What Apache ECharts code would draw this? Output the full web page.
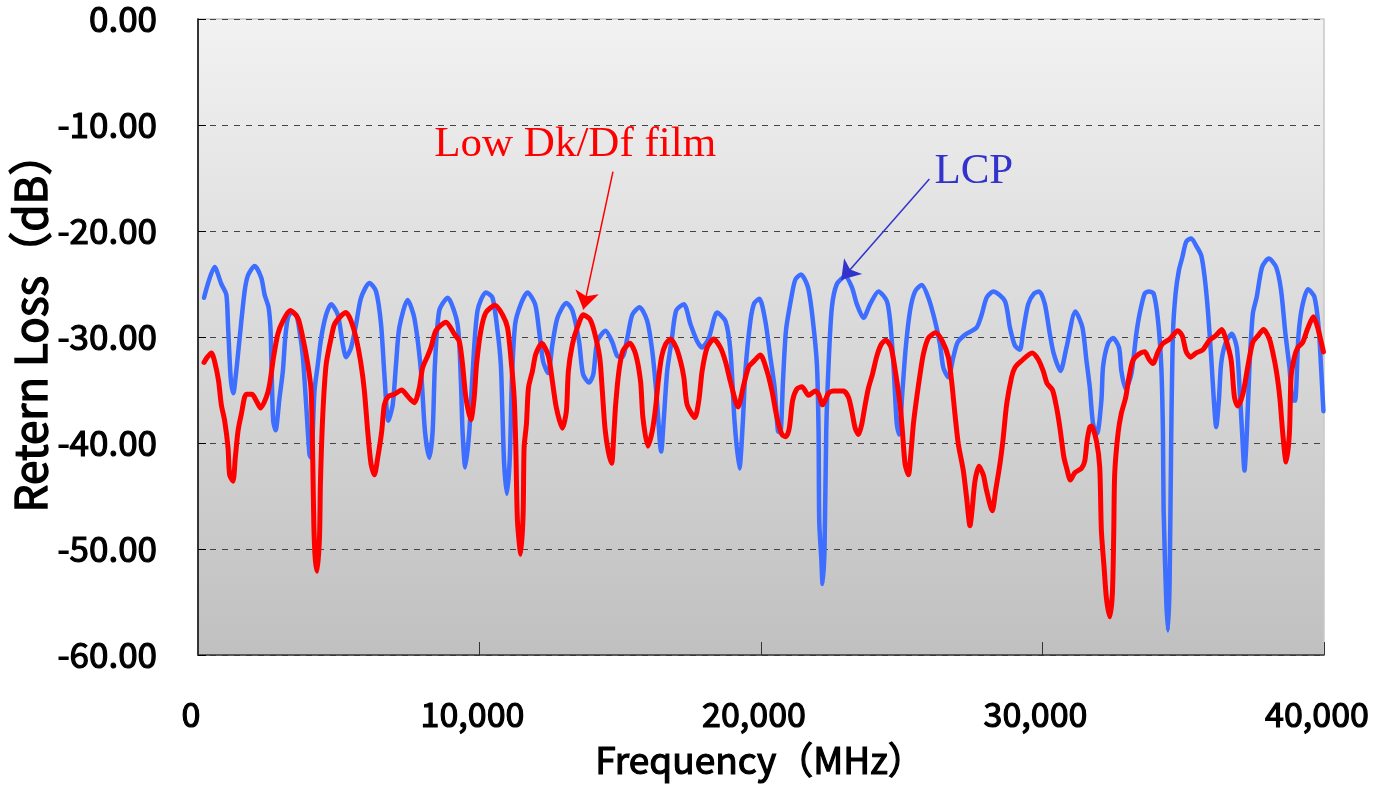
<!DOCTYPE html>
<html>
<head>
<meta charset="utf-8">
<script src="https://cdn.jsdelivr.net/npm/echarts@6/dist/echarts.min.js"></script>
<style>
html,body{margin:0;padding:0;background:#fff;}
#chart{width:1373px;height:791px;}
</style>
</head>
<body>
<div id="chart"></div>
<script>
// Frequency (MHz), Return loss (dB)
const lcpData = [
[214,-26.3],[592,-23.4],[829,-25.0],[1006,-26.0],[1065,-28.8],[1160,-33.8],[1254,-35.3],[1360,-33.2],[1479,-30.1],[1656,-25.7],[1774,-24.2],[2011,-23.3],[2247,-24.4],[2365,-26.0],[2507,-27.2],[2578,-29.4],[2625,-34.2],[2672,-37.9],[2755,-38.8],[2897,-35.7],[3015,-33.2],[3098,-30.1],[3193,-28.2],[3311,-27.7],[3488,-27.9],[3606,-29.4],[3725,-31.9],[3843,-36.4],[3961,-41.1],[4020,-41.4],[4138,-35.1],[4256,-32.6],[4375,-30.1],[4552,-27.9],[4729,-26.9],[4966,-27.9],[5143,-30.7],[5261,-31.9],[5439,-31.0],[5616,-28.8],[5793,-26.3],[6089,-24.9],[6325,-25.7],[6502,-28.8],[6620,-33.5],[6762,-37.9],[6916,-36.4],[7034,-32.6],[7152,-29.1],[7448,-26.5],[7684,-28.2],[7921,-33.2],[8063,-38.9],[8216,-41.4],[8335,-38.9],[8417,-32.6],[8571,-27.5],[8867,-26.3],[9221,-28.8],[9339,-34.2],[9398,-38.9],[9493,-42.3],[9635,-39.0],[9753,-33.5],[9930,-27.5],[10226,-25.8],[10462,-26.3],[10640,-29.4],[10758,-32.6],[10817,-37.3],[10876,-42.0],[10971,-44.8],[11077,-41.4],[11148,-34.2],[11266,-28.8],[11467,-26.9],[11704,-25.8],[11975,-26.9],[12117,-29.4],[12259,-32.3],[12436,-33.4],[12590,-30.7],[12767,-28.2],[13086,-26.8],[13299,-27.5],[13535,-30.4],[13677,-33.5],[13890,-34.3],[14044,-33.5],[14186,-30.4],[14481,-29.4],[14718,-30.5],[14895,-31.8],[15072,-31.9],[15250,-30.1],[15427,-27.9],[15687,-27.2],[15959,-28.5],[16136,-31.3],[16278,-35.1],[16455,-40.8],[16550,-37.6],[16668,-33.2],[16822,-30.4],[16987,-27.5],[17259,-26.9],[17495,-28.8],[17732,-30.4],[17909,-31.0],[18145,-30.1],[18441,-27.7],[18736,-28.5],[18913,-31.3],[19067,-38.2],[19233,-42.4],[19351,-38.2],[19446,-33.2],[19623,-28.5],[19760,-26.8],[19941,-26.4],[20154,-28.5],[20331,-31.9],[20485,-34.8],[20603,-38.9],[20686,-39.0],[20780,-34.2],[20887,-29.4],[21076,-26.3],[21218,-24.6],[21419,-24.1],[21667,-25.3],[21832,-28.2],[21986,-32.6],[22045,-38.9],[22069,-47.4],[22140,-50.8],[22187,-53.3],[22258,-49.9],[22317,-38.9],[22400,-32.6],[22518,-27.2],[22696,-25.0],[22991,-24.3],[23227,-25.3],[23405,-26.9],[23641,-28.2],[23877,-26.9],[24173,-25.7],[24469,-26.6],[24587,-28.5],[24705,-32.6],[24823,-38.2],[24906,-39.2],[25024,-35.1],[25142,-31.0],[25296,-27.5],[25474,-25.7],[25710,-25.1],[25946,-26.3],[26182,-28.5],[26360,-30.7],[26478,-32.9],[26655,-33.8],[26832,-31.9],[26986,-30.5],[27246,-29.8],[27660,-29.1],[27837,-27.9],[28014,-26.3],[28251,-25.7],[28664,-26.6],[28842,-29.1],[29019,-30.8],[29196,-31.2],[29315,-29.4],[29492,-26.9],[29700,-25.9],[29882,-25.7],[30083,-26.9],[30260,-29.7],[30402,-31.6],[30638,-33.2],[30851,-31.0],[31170,-27.6],[31418,-29.1],[31560,-32.2],[31678,-34.7],[31797,-38.2],[31938,-39.1],[32092,-36.0],[32151,-32.8],[32329,-30.6],[32506,-30.1],[32719,-31.0],[32801,-33.2],[32955,-34.9],[33156,-33.5],[33333,-29.7],[33451,-27.8],[33629,-25.9],[33783,-25.7],[33948,-25.9],[34102,-28.4],[34220,-32.8],[34279,-39.1],[34303,-46.4],[34397,-54.9],[34456,-57.7],[34515,-53.3],[34574,-39.1],[34634,-29.7],[34728,-25.9],[34846,-23.7],[34965,-22.5],[35107,-21.0],[35284,-20.7],[35461,-21.4],[35638,-22.3],[35757,-24.3],[35875,-27.5],[35993,-31.9],[36088,-36.0],[36170,-38.5],[36265,-36.0],[36347,-32.5],[36501,-30.6],[36726,-29.7],[36903,-31.0],[36998,-34.7],[37092,-39.1],[37175,-42.6],[37258,-39.1],[37352,-32.8],[37471,-27.8],[37612,-26.2],[37801,-23.4],[38038,-22.6],[38298,-23.4],[38475,-25.6],[38629,-29.7],[38771,-32.8],[38889,-36.0],[38972,-36.0],[39090,-30.0],[39220,-27.2],[39433,-25.5],[39657,-26.2],[39811,-29.1],[39894,-32.8],[39980,-37.0]
];
const lowDkData = [
[214,-32.4],[332,-31.9],[474,-31.5],[616,-32.6],[734,-34.2],[829,-36.4],[947,-37.9],[1065,-40.4],[1124,-43.0],[1242,-43.6],[1325,-41.4],[1420,-38.9],[1538,-37.3],[1715,-35.4],[1916,-35.4],[2070,-36.0],[2223,-36.7],[2424,-35.7],[2542,-34.5],[2684,-31.9],[2838,-29.7],[3015,-28.5],[3275,-27.5],[3547,-28.2],[3725,-30.1],[3902,-32.6],[4020,-35.1],[4079,-42.0],[4115,-47.7],[4162,-50.8],[4233,-52.1],[4316,-48.9],[4351,-43.6],[4434,-37.3],[4552,-32.6],[4729,-30.1],[4848,-28.8],[5049,-28.1],[5261,-27.7],[5439,-28.5],[5616,-30.1],[5793,-32.6],[5911,-35.1],[6029,-38.9],[6148,-42.0],[6266,-43.0],[6384,-41.4],[6526,-38.9],[6620,-36.4],[6762,-35.6],[6975,-35.4],[7235,-35.0],[7448,-35.6],[7684,-36.2],[7862,-34.8],[7980,-32.9],[8157,-31.8],[8275,-31.0],[8453,-29.4],[8807,-28.6],[9103,-29.7],[9280,-30.4],[9398,-32.6],[9516,-35.7],[9694,-37.8],[9812,-35.7],[9895,-32.6],[10049,-29.4],[10226,-27.7],[10557,-27.0],[10817,-27.9],[10994,-29.1],[11113,-31.9],[11231,-35.7],[11290,-40.4],[11349,-47.4],[11467,-50.5],[11550,-46.7],[11585,-40.4],[11668,-38.2],[11739,-34.8],[11881,-33.2],[12000,-31.6],[12212,-30.6],[12448,-31.8],[12590,-34.2],[12732,-36.7],[12944,-38.6],[13086,-37.0],[13157,-33.2],[13299,-30.7],[13476,-29.1],[13689,-27.9],[13914,-28.3],[14068,-29.4],[14269,-31.9],[14363,-35.1],[14458,-38.6],[14576,-40.8],[14694,-41.9],[14777,-38.9],[14836,-36.4],[14954,-33.2],[15096,-31.3],[15344,-30.6],[15545,-31.6],[15722,-34.2],[15805,-37.6],[15982,-40.3],[16136,-38.9],[16254,-36.7],[16349,-34.2],[16467,-31.9],[16609,-30.7],[16786,-30.2],[16987,-31.0],[17141,-32.3],[17259,-33.8],[17377,-36.4],[17649,-37.6],[17791,-36.0],[17909,-33.2],[18086,-31.0],[18322,-30.2],[18559,-31.0],[18736,-32.3],[18913,-34.2],[19185,-36.6],[19387,-34.5],[19564,-32.8],[19740,-32.3],[19977,-31.7],[20213,-33.2],[20390,-35.1],[20568,-37.6],[20745,-39.2],[20887,-39.4],[21005,-38.6],[21123,-36.0],[21277,-34.9],[21454,-34.7],[21691,-35.5],[21927,-35.1],[22045,-35.4],[22187,-36.4],[22400,-35.3],[22577,-35.1],[22932,-35.1],[23109,-35.7],[23227,-37.0],[23345,-38.6],[23464,-39.2],[23582,-38.2],[23700,-36.4],[23818,-34.8],[23960,-33.5],[24114,-31.8],[24268,-30.7],[24433,-30.3],[24622,-31.0],[24788,-33.5],[24942,-36.4],[25024,-38.9],[25119,-42.0],[25237,-43.0],[25331,-40.8],[25414,-38.2],[25533,-35.7],[25651,-33.5],[25769,-31.6],[25946,-30.1],[26206,-29.6],[26442,-30.4],[26655,-31.9],[26773,-34.2],[26891,-37.3],[27010,-40.1],[27187,-42.6],[27305,-45.2],[27424,-47.8],[27506,-46.1],[27601,-43.6],[27743,-42.2],[27896,-43.0],[28014,-44.5],[28215,-46.4],[28334,-44.5],[28487,-42.0],[28605,-39.5],[28724,-36.4],[28901,-33.8],[29019,-32.9],[29232,-32.3],[29634,-31.5],[29846,-32.1],[30024,-33.2],[30166,-34.4],[30355,-35.0],[30496,-36.6],[30615,-38.5],[30757,-41.3],[30851,-42.3],[30993,-43.5],[31147,-42.8],[31383,-42.4],[31501,-41.7],[31584,-39.8],[31678,-38.5],[31738,-38.4],[31915,-39.8],[32033,-42.3],[32092,-48.3],[32187,-51.7],[32269,-54.6],[32388,-56.4],[32482,-54.2],[32530,-48.6],[32565,-42.9],[32683,-39.1],[32801,-37.2],[32955,-35.7],[33073,-33.8],[33215,-32.2],[33428,-31.6],[33629,-31.4],[33783,-32.1],[33924,-32.5],[34102,-31.4],[34279,-30.6],[34515,-30.2],[34811,-29.4],[34965,-29.9],[35107,-31.4],[35260,-31.9],[35461,-31.5],[35698,-31.2],[35934,-30.3],[36147,-29.9],[36371,-29.3],[36525,-30.3],[36702,-32.2],[36820,-35.7],[36939,-36.5],[37116,-35.4],[37293,-32.8],[37471,-30.5],[37648,-29.9],[37849,-29.3],[38062,-30.2],[38239,-32.2],[38357,-34.1],[38440,-36.0],[38535,-39.1],[38653,-41.8],[38771,-39.1],[38830,-33.8],[38948,-31.9],[39067,-31.0],[39244,-30.5],[39421,-29.2],[39622,-28.1],[39775,-29.1],[39980,-31.4]
];
const seriesNames = ['LCP', 'Low Dk/Df film'];
const xAxisTitle = 'Frequency（MHz）';
const yAxisTitle = 'Retern Loss（dB）';

const tickFont = "'Noto Sans CJK JP', sans-serif";
const titleFont = "'Noto Sans CJK JP', sans-serif";

const chart = echarts.init(document.getElementById('chart'), null, {renderer: 'canvas'});
chart.setOption({
  animation: false,
  backgroundColor: '#ffffff',
  grid: {
    left: 198, right: 49, top: 19, bottom: 136,
    containLabel: false,
    outerBoundsMode: 'none',
    show: true,
    borderColor: '#c8c8c8', borderWidth: 1.5,
    backgroundColor: new echarts.graphic.LinearGradient(0, 0, 0, 1, [
      {offset: 0, color: '#f2f2f2'},
      {offset: 1, color: '#c0c0c0'}
    ])
  },
  xAxis: {
    type: 'value', min: 0, max: 40000, interval: 10000,
    name: xAxisTitle, nameLocation: 'middle', nameGap: 86, nameMoveOverlap: false,
    nameTextStyle: {fontFamily: titleFont, fontSize: 37, color: '#000',
      textBorderColor: '#000', textBorderWidth: 1.2, padding: [0, 2, 0, 0]},
    axisLine: {show: true, onZero: false, lineStyle: {color: '#333', width: 1.5}},
    axisTick: {show: true, inside: true, length: 13, lineStyle: {color: '#333', width: 1}},
    axisLabel: {
      fontFamily: tickFont, fontSize: 34, color: '#000', margin: 42,
      textBorderColor: '#000', textBorderWidth: 1.2,
      padding: [0, 14, 0, 0],
      formatter: v => v.toLocaleString('en-US')
    },
    splitLine: {show: false}
  },
  yAxis: {
    type: 'value', min: -60, max: 0, interval: 10,
    name: yAxisTitle, nameLocation: 'middle', nameGap: 146, nameRotate: 90, nameMoveOverlap: false,
    nameTextStyle: {fontFamily: titleFont, fontSize: 44, color: '#000',
      textBorderColor: '#000', textBorderWidth: 1.4, padding: [0, 0, 0, 30]},
    axisLine: {show: true, onZero: false, lineStyle: {color: '#000', width: 1.5}},
    axisTick: {show: true, inside: true, length: 8, lineStyle: {color: '#000', width: 1}},
    axisLabel: {
      fontFamily: tickFont, fontSize: 35, color: '#000', margin: 41,
      textBorderColor: '#000', textBorderWidth: 1.2,
      padding: [8, 0, 0, 0],
      formatter: v => v.toFixed(2)
    },
    splitLine: {show: true, lineStyle: {color: '#444', width: 1, type: [6, 6]}}
  },
  series: [
    {
      name: seriesNames[0], type: 'line', data: lcpData,
      showSymbol: false, symbol: 'none', smooth: 0.25,
      lineStyle: {color: '#3d6eff', width: 4.5, join: 'round', cap: 'round'},
      markLine: {
        silent: true, symbol: ['none', 'arrow'], symbolSize: 18,
        label: {show: false},
        lineStyle: {color: '#3333cc', width: 1.5, type: 'solid'},
        data: [[{coord: [25982, -15.1]}, {coord: [22851, -24.6]}]]
      },
      markPoint: {
        silent: true, symbol: 'circle', symbolSize: 0,
        data: [{coord: [27560, -14.4], value: 'LCP'}],
        label: {show: true, position: 'inside', formatter: 'LCP',
          fontFamily: "'Liberation Serif', serif", fontSize: 43, color: '#3333cc'}
      },
      z: 2
    },
    {
      name: seriesNames[1], type: 'line', data: lowDkData,
      showSymbol: false, symbol: 'none', smooth: 0.25,
      lineStyle: {color: '#ff0000', width: 5, join: 'round', cap: 'round'},
      markLine: {
        silent: true, symbol: ['none', 'arrow'], symbolSize: 18,
        label: {show: false},
        lineStyle: {color: '#ff0000', width: 1.5, type: 'solid'},
        data: [[{coord: [14741, -14.4]}, {coord: [13688, -27.4]}]]
      },
      markPoint: {
        silent: true, symbol: 'circle', symbolSize: 0,
        data: [{coord: [13400, -11.9], value: 'Low Dk/Df film'}],
        label: {show: true, position: 'inside', formatter: 'Low Dk/Df film',
          fontFamily: "'Liberation Serif', serif", fontSize: 43, color: '#ff0000'}
      },
      z: 3
    }
  ]
});
</script>
</body>
</html>
